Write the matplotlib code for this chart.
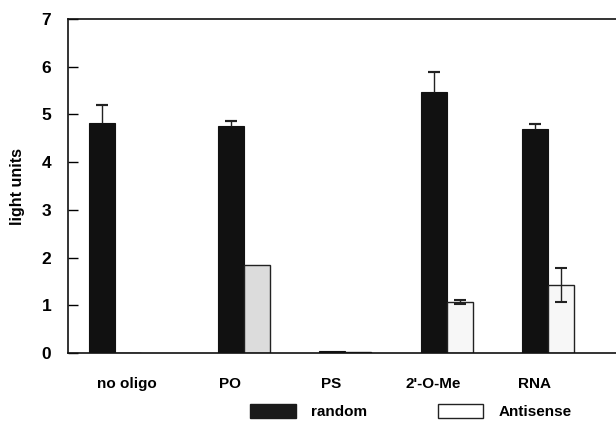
import matplotlib
matplotlib.use("Agg")
import matplotlib.pyplot as plt
import numpy as np
from matplotlib.patches import Patch

categories = ["no oligo", "PO", "PS", "2'-O-Me", "RNA"]
random_vals = [4.82, 4.76, 0.05, 5.47, 4.70]
random_err = [0.37, 0.10, 0.0, 0.42, 0.10]
antisense_vals = [0.0, 1.85, 0.03, 1.07, 1.43]
antisense_err = [0.0, 0.0, 0.0, 0.05, 0.36]
yticks = [0, 1, 2, 3, 4, 5, 6, 7]

# layout
centers = np.array([0.0, 1.27, 2.27, 3.27, 4.27])
label_pos = np.array([0.12, 1.13, 2.13, 3.13, 4.13])
w = 0.256
anti_colors = ["#f7f7f7", "#dcdcdc", "#f7f7f7", "#f7f7f7", "#f7f7f7"]

plt.rcParams['font.family'] = ['Liberation Sans', 'DejaVu Sans']
plt.rcParams['font.weight'] = 'bold'

fig = plt.figure(figsize=(6.16, 4.25), dpi=100)
ax = fig.add_axes([0.1104, 0.1694, 1 - 0.1104, 0.9553 - 0.1694])

ax.bar(centers - w / 2, random_vals, w, color="#111111", edgecolor="#111111",
       linewidth=0.8, zorder=2)
ax.bar(centers + w / 2, antisense_vals, w, color=anti_colors, edgecolor="#222222",
       linewidth=1.0, zorder=2)

rv = np.array(random_vals); re = np.array(random_err)
m = re > 0
ax.errorbar((centers - w / 2)[m], rv[m] + re[m] / 2, yerr=re[m] / 2, fmt='none',
            ecolor="#222222", elinewidth=1.0, capsize=0, zorder=3)
ax.errorbar((centers - w / 2)[m], rv[m] + re[m], yerr=0, fmt='none',
            ecolor="#222222", elinewidth=0, capsize=4, capthick=1.5, zorder=3)
av = np.array(antisense_vals); ae = np.array(antisense_err)
m2 = ae > 0
ax.errorbar((centers + w / 2)[m2], av[m2], yerr=ae[m2], fmt='none',
            ecolor="#222222", elinewidth=1.0, capsize=4, capthick=1.5, zorder=3)

ax.set_xlim(-0.463, 4.936)
ax.set_ylim(0, 7)
ax.set_yticks(yticks)
ax.set_yticklabels([str(t) for t in yticks], fontsize=12.5, fontweight='bold')
ax.set_xticks(label_pos)
ax.set_xticklabels(categories, fontsize=11, fontweight='bold')
ax.tick_params(axis='x', length=0, pad=17)
ax.tick_params(axis='y', direction='in', length=7, width=1, pad=12)
ax.spines['right'].set_visible(False)
for s in ['left', 'top', 'bottom']:
    ax.spines[s].set_linewidth(1.2)
    ax.spines[s].set_color("#111111")

ax.set_ylabel("light units", fontsize=11.5, fontweight='bold', labelpad=12)

handles = [Patch(facecolor="#1a1a1a", edgecolor="#1a1a1a"),
           Patch(facecolor="white", edgecolor="#222222", linewidth=1.0)]
fig.legend(handles, ["random", "Antisense"], ncol=2, loc='center',
           bbox_to_anchor=(0.667, 0.031), frameon=False, fontsize=11,
           handlelength=3.0, handleheight=1.0, handletextpad=1.0,
           columnspacing=4.6)

fig.savefig("out.png", dpi=100)
